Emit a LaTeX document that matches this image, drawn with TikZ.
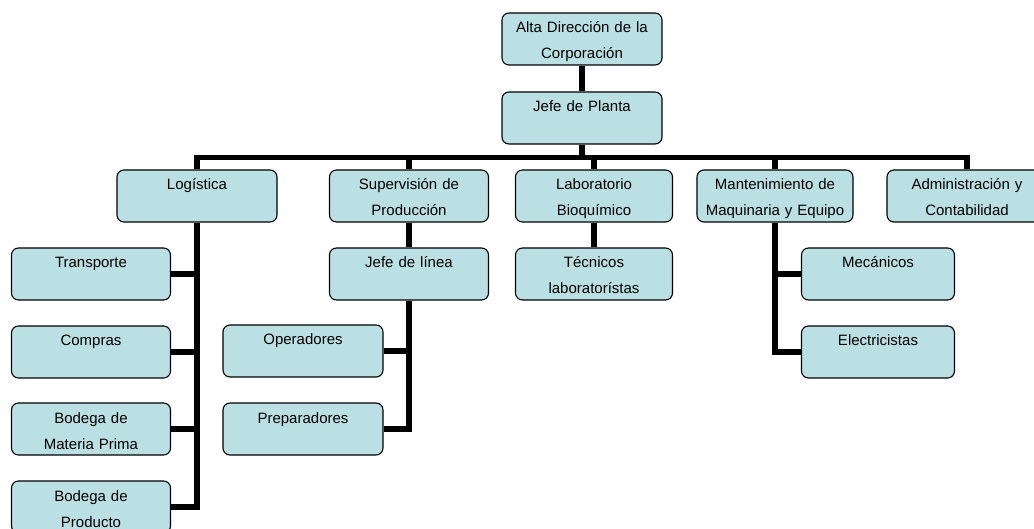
\documentclass[tikz,border=0pt]{standalone}
\usepackage{fontspec}
\setmainfont{Liberation Sans}
\usetikzlibrary{backgrounds}
\definecolor{boxfill}{RGB}{187,224,227}
% struts giving every box two lines of 26pt: 20pt above the first baseline, 6pt below the last
\newcommand{\hiStrut}{\rule{0pt}{20pt}}
\newcommand{\loStrut}{\rule[-6pt]{0pt}{6pt}}
\tikzset{
  orgbox/.style={draw=black, line width=1.1pt, rounded corners=7pt, fill=boxfill,
    inner xsep=0pt, inner ysep=0pt, text width=#1, align=center,
    font=\fontsize{15}{26}\selectfont,
    execute at begin node=\hiStrut, execute at end node=\loStrut},
  orgbox/.default=160pt,
  link/.style={draw=black, line width=5.5pt}
}
\begin{document}
\begin{tikzpicture}[x=1pt,y=-1pt]
\useasboundingbox (0,0) rectangle (1034,529);

% top of the hierarchy
\node[orgbox] (alta) at (582,39) {Alta Dirección de la\\Corporación};
\node[orgbox] (jefe) at (582,118) {Jefe de Planta\\};

% departments
\node[orgbox] (log) at (197,196) {Logística\\};
\node[orgbox=159pt] (sup) at (409,196) {Supervisión de\\Producción};
\node[orgbox=157pt] (lab) at (594,196) {Laboratorio\\Bioquímico};
\node[orgbox=156pt] (man) at (775,196) {Mantenimiento de\\Maquinaria y Equipo};
\node[orgbox] (adm) at (967,196) {Administración y\\Contabilidad};

% logistics
\node[orgbox=159pt] (trans) at (91,274) {Transporte\\};
\node[orgbox=159pt] (comp) at (91,352) {Compras\\};
\node[orgbox=159pt] (bmp) at (91,429) {Bodega de\\Materia Prima};
\node[orgbox=159pt] (bpr) at (91,507) {Bodega de\\Producto};

% production
\node[orgbox=159pt] (jlin) at (409,274) {Jefe de línea\\};
\node[orgbox] (oper) at (303,351) {Operadores\\};
\node[orgbox] (prep) at (303,429) {Preparadores\\};

% laboratory
\node[orgbox=157pt] (tec) at (594,274) {Técnicos\\laboratorístas};

% maintenance
\node[orgbox=153pt] (mec) at (878,274) {Mecánicos\\};
\node[orgbox=153pt] (elec) at (878,352) {Electricistas\\};

\coordinate (bus) at (0,157.5);

\begin{scope}[on background layer]
  \draw[link] (alta) -- (jefe);
  \draw[link] (jefe.south) -- (jefe.south |- bus);
  \draw[link] (log.north) -- (log.north |- bus) -| (adm.north);
  \draw[link] (sup.north) -- (sup.north |- bus);
  \draw[link] (lab.north) -- (lab.north |- bus);
  \draw[link] (man.north) -- (man.north |- bus);

  \draw[link] (log.south) |- (bpr.east);
  \draw[link] (trans.east) -- (trans.east -| log.south);
  \draw[link] (comp.east) -- (comp.east -| log.south);
  \draw[link] (bmp.east) -- (bmp.east -| log.south);

  \draw[link] (sup) -- (jlin);
  \draw[link] (jlin.south) |- (prep.east);
  \draw[link] (oper.east) -- (oper.east -| jlin.south);

  \draw[link] (lab) -- (tec);

  \draw[link] (man.south) |- (elec.west);
  \draw[link] (mec.west) -- (mec.west -| man.south);
\end{scope}
\end{tikzpicture}
\end{document}
